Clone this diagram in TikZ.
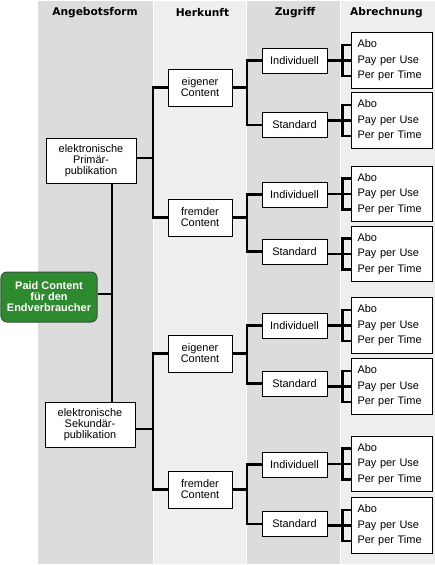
\documentclass[tikz,border=0pt]{standalone}
\usepackage{fontspec}
\setmainfont{Liberation Sans}
\newfontfamily\headfont{DejaVu Sans}
\usetikzlibrary{calc}
\definecolor{coldark}{HTML}{DCDCDC}
\definecolor{collight}{HTML}{EEEEEE}
\definecolor{paidgreen}{HTML}{2E8A2E}
\definecolor{paidborder}{HTML}{3A503A}
\begin{document}
\begin{tikzpicture}[x=1bp,y=-1bp,
  head/.style={inner sep=0pt, font=\headfont\bfseries\fontsize{10.7}{12}\selectfont},
  box/.style={draw=black, line width=0.9bp, fill=white, inner sep=0pt, align=center,
    font=\fontsize{11}{11}\selectfont},
  formbox/.style={box, minimum width=90bp, minimum height=45bp},
  herkbox/.style={box, minimum width=64bp, minimum height=37bp},
  zugbox/.style={box, minimum width=65bp, minimum height=25bp},
  abrbox/.style={box, minimum width=81bp, minimum height=55.5bp, align=left,
    text width=68bp, font=\fontsize{11}{15.5}\selectfont},
  paidbox/.style={draw=paidborder, line width=1bp, fill=paidgreen, rounded corners=6bp,
    minimum width=96bp, minimum height=50bp, inner sep=0pt, align=center, text=white,
    font=\bfseries\fontsize{11}{11}\selectfont},
  conn/.style={draw=black, line width=2.8bp}
]
\useasboundingbox (0,0) rectangle (435,565);
% column backgrounds
\fill[coldark]  (38,1) rectangle (152.5,564);
\fill[collight] (153.5,1) rectangle (246,564);
\fill[coldark]  (247,1) rectangle (340,564);
\fill[collight] (341,1) rectangle (435,564);
% headings
\node[head] (h1) at (95,13) {Angebotsform};
\node[head] (h2) at (202.5,13) {Herkunft};
\node[head] (h3) at (295,13) {Zugriff};
\node[head] (h4) at (386.5,13) {Abrechnung};
% root and first level
\node[paidbox] (paid) at (49,297) {Paid Content\\für den\\Endverbraucher};
\node[formbox] (prim) at (91,160.5) {elektronische\\Primär-\\publikation};
\node[formbox] (sek) at (90,424.5) {elektronische\\Sekundär-\\publikation};
\coordinate (j0) at (112,294);
\coordinate (jP) at (153,158);
\coordinate (jS) at (153,429);
\coordinate (x3) at (247,0);
\draw[conn] (prim.south -| j0) -- (sek.north -| j0);
\draw[conn] (paid.east |- j0) -- (j0);
\draw[conn] (prim.east |- jP) -- (jP);
\draw[conn] (sek.east |- jS) -- (jS);
% groups
\foreach \g/\pj/\hk/\hy/\iy/\sy/\ra/\rb in {
  A/jP/eigener/87.5/60.5/125/60.5/120.5,
  B/jP/fremder/217.5/194.5/251.5/194/254,
  C/jS/eigener/353.5/325.5/383.5/325.5/386.5,
  D/jS/fremder/489.5/464.5/524/464/525.5}{
  \node[herkbox] (h\g) at (200,\hy) {\hk\\Content};
  \node[zugbox] (i\g) at (294.5,\iy) {Individuell};
  \node[zugbox] (s\g) at (294.5,\sy) {Standard};
  \node[abrbox] (ra\g) at (391.5,\ra) {Abo\\Pay per Use\\Per per Time};
  \node[abrbox] (rb\g) at (391.5,\rb) {Abo\\Pay per Use\\Per per Time};
  \draw[conn] (h\g.west) -| (\pj);
  \draw[conn] (h\g.east) -- (h\g.east -| x3);
  \draw[conn] (i\g.west) -| (h\g.east -| x3);
  \draw[conn] (s\g.west) -| (h\g.east -| x3);
  \draw[conn] (ra\g.west -| i\g.east) -- (ra\g.west);
  \draw[conn] (rb\g.west -| s\g.east) -- (rb\g.west);
  \draw[conn] ($(ra\g.west)+(0,-15.5)$) -| ($(ra\g.west)+(-8,15.5)$) -- ($(ra\g.west)+(0,15.5)$);
  \draw[conn] ($(rb\g.west)+(0,-15.5)$) -| ($(rb\g.west)+(-8,15.5)$) -- ($(rb\g.west)+(0,15.5)$);
}
\end{tikzpicture}
\end{document}
